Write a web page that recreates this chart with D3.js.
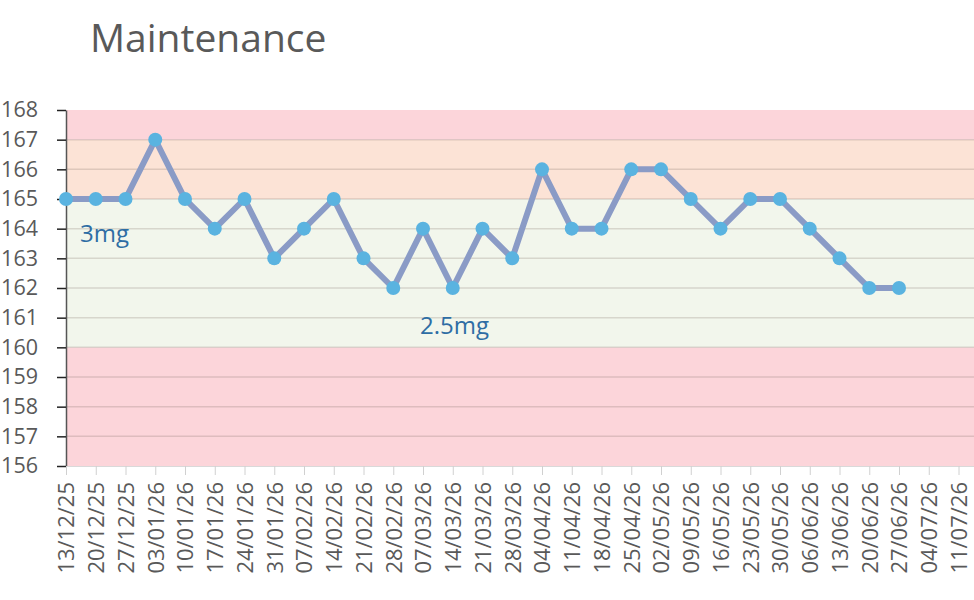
<!DOCTYPE html>
<html>
<head>
  <meta charset="utf-8">
  <script src="https://d3js.org/d3.v7.min.js"></script>
  <style>
    body { margin: 0; background: #fff; }
    text { font-family: "Open Sans", "Noto Sans", sans-serif; }
  </style>
</head>
<body>
<div id="chart"></div>
<script>
  // weekly dates on the axis (last two have no reading yet)
  const dates = ["13/12/25", "20/12/25", "27/12/25", "03/01/26", "10/01/26", "17/01/26", "24/01/26",
    "31/01/26", "07/02/26", "14/02/26", "21/02/26", "28/02/26", "07/03/26", "14/03/26", "21/03/26",
    "28/03/26", "04/04/26", "11/04/26", "18/04/26", "25/04/26", "02/05/26", "09/05/26", "16/05/26",
    "23/05/26", "30/05/26", "06/06/26", "13/06/26", "20/06/26", "27/06/26", "04/07/26", "11/07/26"];
  const weights = [165, 165, 165, 167, 165, 164, 165, 163, 164, 165, 163, 162, 164, 162, 164, 163,
    166, 164, 164, 166, 166, 165, 164, 165, 165, 164, 163, 162, 162];
  const yTicks = d3.range(156, 169);
  const bandLow = [156, 160, 165, 167];
  const bandHigh = [160, 165, 167, 168];
  const doseLabels = ["3mg", "2.5mg"];
  const doseAt = [[0.47, 163.55], [11.9, 160.45]];

  const width = 974, height = 600;
  const marginLeft = 66, marginTop = 110, plotH = 356;
  const step = 29.75;

  const svg = d3.select("#chart").append("svg")
    .attr("width", width).attr("height", height);

  const x = d3.scaleLinear().domain([0, 31]).range([marginLeft, marginLeft + 31 * step]);
  const y = d3.scaleLinear().domain([156, 168]).range([marginTop + plotH, marginTop]);

  const bandColors = ["#fcd5da", "#f2f6ec", "#fce3d6", "#fcd5da"];
  svg.selectAll("rect.band")
    .data(bandLow)
    .join("rect")
    .attr("x", marginLeft)
    .attr("width", x(31) - marginLeft)
    .attr("y", (d, i) => y(bandHigh[i]))
    .attr("height", (d, i) => y(d) - y(bandHigh[i]))
    .attr("fill", (d, i) => bandColors[i]);

  // horizontal gridlines
  svg.selectAll("line.grid")
    .data(yTicks.slice(1, -1))
    .join("line")
    .attr("x1", marginLeft).attr("x2", x(31))
    .attr("y1", d => y(d)).attr("y2", d => y(d))
    .attr("stroke", "rgba(120,100,90,0.22)")
    .attr("stroke-width", 1.5);

  // y axis
  const yAxis = svg.append("g")
    .attr("transform", `translate(${marginLeft},0)`)
    .call(d3.axisLeft(y).tickValues(yTicks).tickSize(9).tickPadding(19).tickSizeOuter(0));
  yAxis.select(".domain").attr("stroke", "#555").attr("stroke-width", 1.5);
  yAxis.selectAll(".tick line").attr("stroke", "#222").attr("stroke-width", 1.5);
  yAxis.selectAll("text").attr("fill", "#595959").style("font-size", "21.5px")
    .style("font-family", "'Open Sans', sans-serif");

  // x axis
  const xAxis = svg.append("g")
    .attr("transform", `translate(0,${marginTop + plotH})`)
    .call(d3.axisBottom(x).tickValues(d3.range(dates.length)).tickFormat(i => dates[i])
      .tickSize(9).tickSizeOuter(0));
  xAxis.select(".domain").attr("stroke", "#d9d9d9");
  xAxis.selectAll(".tick line").attr("stroke", "#d0d0d0");
  xAxis.selectAll("text")
    .attr("fill", "#595959")
    .style("font-size", "22px")
    .attr("transform", "rotate(-90)")
    .attr("text-anchor", "end")
    .attr("x", -16)
    .attr("y", 0)
    .attr("dy", "0.36em");

  // line + markers
  const line = d3.line().x((d, i) => x(i)).y(d => y(d));
  svg.append("path")
    .datum(weights)
    .attr("d", line)
    .attr("fill", "none")
    .attr("stroke", "#8a9bc6")
    .attr("stroke-width", 6)
    .attr("stroke-linejoin", "round");

  svg.selectAll("circle.pt")
    .data(weights)
    .join("circle")
    .attr("cx", (d, i) => x(i))
    .attr("cy", d => y(d))
    .attr("r", 7)
    .attr("fill", "#5ab3e0");

  // dose annotations
  svg.selectAll("text.dose")
    .data(doseLabels)
    .join("text")
    .attr("x", (d, i) => x(doseAt[i][0]))
    .attr("y", (d, i) => y(doseAt[i][1]))
    .attr("fill", "#2e6da4")
    .style("font-size", "24px")
    .text(d => d);

  svg.append("text")
    .attr("x", 90).attr("y", 52)
    .attr("fill", "#595959")
    .style("font-size", "39px")
    .text("Maintenance");
</script>
</body>
</html>
